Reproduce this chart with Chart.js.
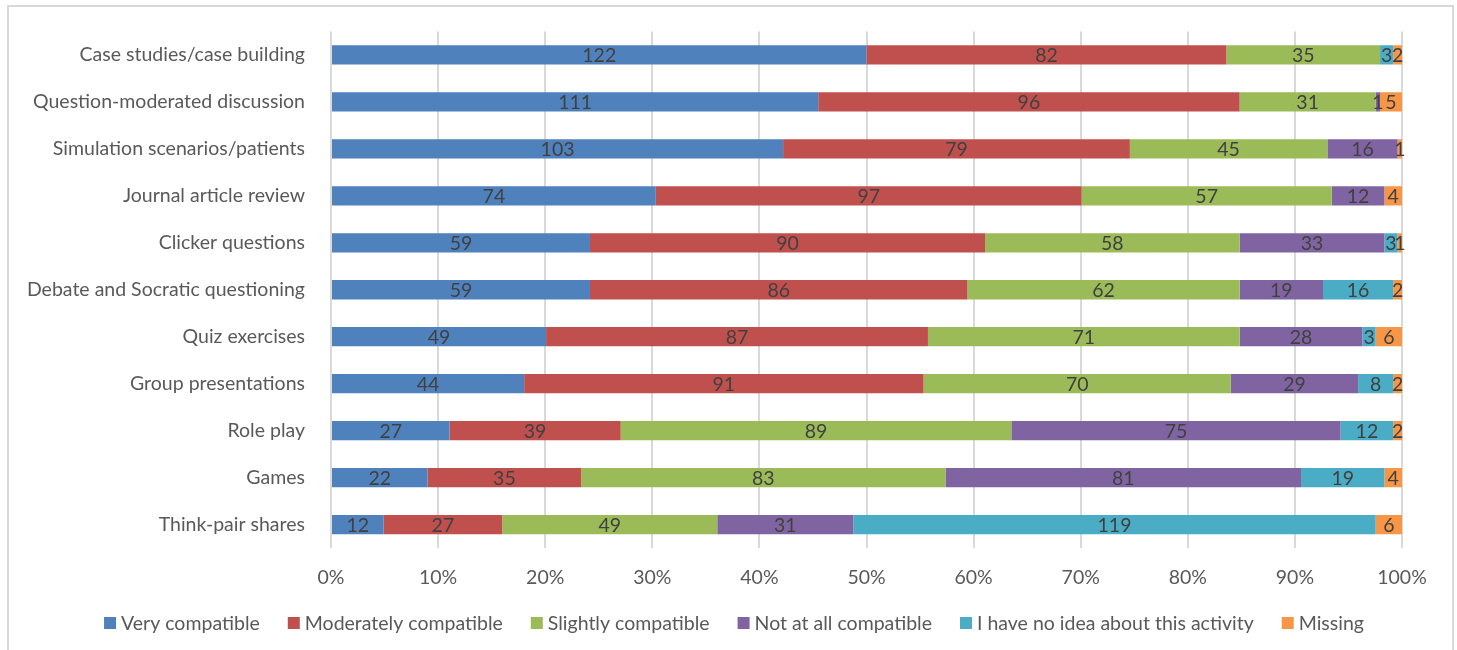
<!DOCTYPE html>
<html>
<head>
<meta charset="utf-8" />
<title>Compatibility of activities</title>
<script src="https://cdn.jsdelivr.net/npm/chart.js@4"></script>
<style>
  body { margin: 0; padding: 0; background: #fff; overflow: hidden; }
  #frame { position: absolute; left: 7px; top: 5px; width: 1443px; height: 700px; border: 2px solid #d9d9d9; }
  #wrap { position: absolute; left: 0; top: 0; width: 1457px; height: 650px; }
</style>
</head>
<body>
<div id="frame"></div>
<div id="wrap"><canvas id="chart"></canvas></div>
<script>

var activities = ['Case studies/case building', 'Question-moderated discussion', 'Simulation scenarios/patients',
  'Journal article review', 'Clicker questions', 'Debate and Socratic questioning', 'Quiz exercises',
  'Group presentations', 'Role play', 'Games', 'Think-pair shares'];

var veryCompat       = [122, 111, 103, 74, 59, 59, 49, 44, 27, 22, 12];
var moderatelyCompat = [82, 96, 79, 97, 90, 86, 87, 91, 39, 35, 27];
var slightlyCompat   = [35, 31, 45, 57, 58, 62, 71, 70, 89, 83, 49];
var notCompat        = [0, 1, 16, 12, 33, 19, 28, 29, 75, 81, 31];
var noIdea           = [3, 0, 0, 0, 3, 16, 3, 8, 12, 19, 119];
var missing          = [2, 5, 1, 4, 1, 2, 6, 2, 2, 4, 6];

var seriesNames = ['Very compatible', 'Moderately compatible', 'Slightly compatible',
  'Not at all compatible', 'I have no idea about this activity', 'Missing'];
var seriesColors = ['#4f81bd', '#c0504d', '#9bbb59', '#8064a2', '#4bacc6', '#f79646'];
var pctTicks = [0, 10, 20, 30, 40, 50, 60, 70, 80, 90, 100];

var allSeries = [veryCompat, moderatelyCompat, slightlyCompat, notCompat, noIdea, missing];

// row totals so each bar fills 100%
var totals = activities.map(function (a, i) {
  return allSeries.reduce(function (s, arr) { return s + arr[i]; }, 0);
});

var datasets = allSeries.map(function (arr, k) {
  return {
    label: seriesNames[k],
    counts: arr,
    data: arr.map(function (v, i) { return v / totals[i] * 100; }),
    backgroundColor: seriesColors[k],
    borderWidth: 0,
    barPercentage: 0.41,
    categoryPercentage: 1
  };
});

var FONT = 'Lato, "Open Sans", sans-serif';
var FSIZE = 19.5;

// draws the counts in the middle of each segment
var countLabels = {
  id: 'countLabels',
  afterDatasetsDraw: function (chart) {
    var ctx = chart.ctx;
    ctx.save();
    ctx.font = FSIZE + 'px ' + FONT;
    ctx.fillStyle = '#404040';
    ctx.textAlign = 'center';
    ctx.textBaseline = 'middle';
    chart.data.datasets.forEach(function (ds, k) {
      var meta = chart.getDatasetMeta(k);
      meta.data.forEach(function (bar, i) {
        var v = ds.counts[i];
        if (!v) return;
        var cx = (bar.x + bar.base) / 2;
        ctx.fillText(String(v), cx, bar.y + 1);
      });
    });
    ctx.restore();
  }
};

// legend drawn by hand so the spacing can follow the original
var bottomLegend = {
  id: 'bottomLegend',
  afterDraw: function (chart) {
    var ctx = chart.ctx;
    ctx.save();
    ctx.font = FSIZE + 'px ' + FONT;
    ctx.textBaseline = 'middle';
    var box = 12, gap = 5, between = 28;
    var widths = seriesNames.map(function (n) { return ctx.measureText(n).width; });
    var total = widths.reduce(function (s, w) { return s + box + gap + w; }, 0) + between * (seriesNames.length - 1);
    var x = 734 - total / 2;
    var y = 623;
    seriesNames.forEach(function (n, k) {
      ctx.fillStyle = seriesColors[k];
      ctx.fillRect(x, y - box / 2, box, box);
      ctx.fillStyle = '#595959';
      ctx.fillText(n, x + box + gap, y + 1);
      x += box + gap + widths[k] + between;
    });
    ctx.restore();
  }
};

new Chart(document.getElementById('chart'), {
  type: 'bar',
  data: { labels: activities, datasets: datasets },
  plugins: [countLabels, bottomLegend],
  options: {
    indexAxis: 'y',
    responsive: true,
    maintainAspectRatio: false,
    animation: false,
    layout: { padding: { top: 31.5, right: 55, bottom: 50, left: 0 } },
    scales: {
      x: {
        stacked: true,
        min: 0,
        max: 100,
        afterBuildTicks: function (scale) {
          scale.ticks = pctTicks.map(function (v) { return { value: v }; });
        },
        afterFit: function (scale) { scale.height = 52; },
        grid: { color: '#d9d9d9', lineWidth: 2, drawTicks: false },
        border: { display: false },
        ticks: {
          padding: 18,
          color: '#595959',
          font: { family: FONT, size: FSIZE },
          callback: function (v) { return v + '%'; }
        }
      },
      y: {
        stacked: true,
        afterFit: function (scale) {
          scale.width = 331;
          // tick padding would otherwise push the plot area down
          scale.paddingTop = 0;
          scale.paddingBottom = 0;
        },
        grid: { display: false, drawTicks: false },
        border: { display: false },
        ticks: {
          padding: 26,
          color: '#595959',
          font: { family: FONT, size: FSIZE }
        }
      }
    },
    plugins: {
      legend: { display: false },
      tooltip: { enabled: false }
    }
  }
});

</script>
</body>
</html>
